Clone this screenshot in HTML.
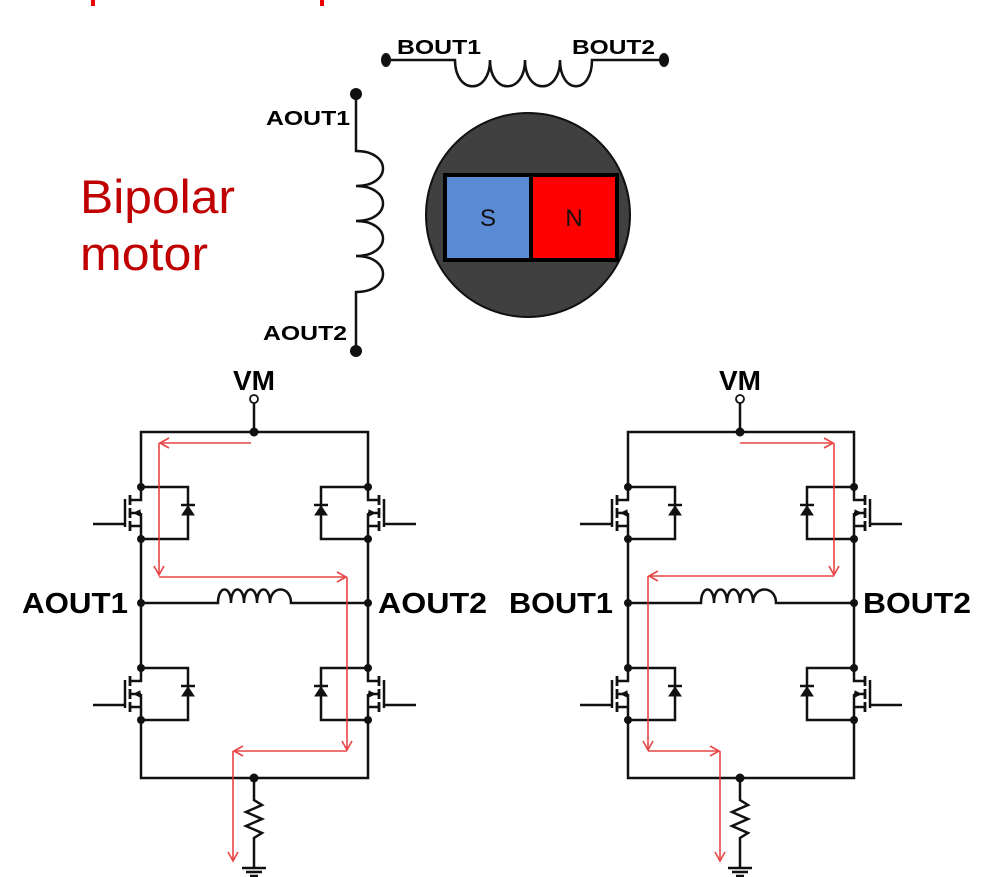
<!DOCTYPE html>
<html><head><meta charset="utf-8"><style>
html,body{margin:0;padding:0;background:#fff;}
svg{display:block;}
text{font-family:"Liberation Sans",sans-serif;}
</style></head><body>
<svg width="1000" height="877" viewBox="0 0 1000 877" xmlns="http://www.w3.org/2000/svg">
<defs>
<marker id="ar" markerWidth="12" markerHeight="12" refX="10" refY="6" orient="auto" markerUnits="userSpaceOnUse">
<path d="M1,1 L10,6 L1,11" fill="none" stroke="#e83030" stroke-width="1.6"/>
</marker>
<g id="fet" stroke="#111" stroke-width="2.5" fill="none">
<path d="M0,0 H47 V52 H0"/>
<path d="M0,0 V13 H-11 M-11,26 H0 M0,39 H-11 M0,39 V52"/>
<path d="M0,26 V39" />
<path d="M-11,8 V18 M-11,21 V31 M-11,34 V44" stroke-width="2.8"/>
<path d="M-16,12 V40 M-16,37 H-48"/>
<path d="M-7,26 L-1,23 L-1,29 Z" fill="#111" stroke-width="1"/>
<path d="M41,28 H53 L47,19 Z" fill="#111" stroke-width="1"/>
<path d="M40,18 H54"/>
<circle cx="0" cy="0" r="4" fill="#111" stroke="none"/>
<circle cx="0" cy="52" r="4" fill="#111" stroke="none"/>
</g>
</defs>

<rect x="91" y="0" width="4" height="6" fill="#e00"/>
<rect x="320" y="0" width="4" height="6" fill="#e00"/>

<text x="80" y="213" font-size="47" fill="#c00000" textLength="155" lengthAdjust="spacingAndGlyphs">Bipolar</text>
<text x="80" y="270" font-size="47" fill="#c00000" textLength="128" lengthAdjust="spacingAndGlyphs">motor</text>

<g stroke="#111" stroke-width="2.5" fill="none">
<path d="M386,60 H455 C455,95 490,95 490,60 C490,95 525,95 525,60 C525,95 560,95 560,60 C560,95 592,95 592,60 H664"/>
<path d="M356,94 V151 C392,151 392,186 356,186 C392,186 392,221 356,221 C392,221 392,256 356,256 C392,256 392,292 356,292 V351"/>
</g>
<ellipse cx="386" cy="60" rx="5" ry="7" fill="#111"/>
<ellipse cx="664" cy="60" rx="5" ry="7" fill="#111"/>
<ellipse cx="356" cy="94" rx="6" ry="6" fill="#111"/>
<ellipse cx="356" cy="351" rx="6" ry="6" fill="#111"/>
<text x="397" y="54" font-size="20" font-weight="bold" textLength="84" lengthAdjust="spacingAndGlyphs">BOUT1</text>
<text x="572" y="54" font-size="20" font-weight="bold" textLength="83" lengthAdjust="spacingAndGlyphs">BOUT2</text>
<text x="266" y="125" font-size="20" font-weight="bold" textLength="84" lengthAdjust="spacingAndGlyphs">AOUT1</text>
<text x="263" y="340" font-size="20" font-weight="bold" textLength="84" lengthAdjust="spacingAndGlyphs">AOUT2</text>

<circle cx="528" cy="215" r="102" fill="#404040" stroke="#111" stroke-width="2"/>
<rect x="445" y="175" width="86" height="85" fill="#5b8bd5" stroke="#000" stroke-width="4"/>
<rect x="531" y="175" width="86" height="85" fill="#ff0000" stroke="#000" stroke-width="4"/>
<text x="488" y="226" font-size="24" text-anchor="middle" fill="#111">S</text>
<text x="574" y="226" font-size="24" text-anchor="middle" fill="#111">N</text>

<g stroke="#111" stroke-width="2.5" fill="none">
<path d="M141,487 V432 H368 V487"/>
<path d="M141,539 V668 M368,539 V668"/>
<path d="M141,720 V778 H368 V720"/>
<path d="M254,403 V432"/>
<path d="M141,603 H218 C218,585 231,585 231,603 C231,585 244,585 244,603 C244,585 257,585 257,603 C257,585 270,585 270,603 C270,585 291,585 291,603 H368"/>
<path d="M254,778 V800 L262,805 L246,812 L262,819 L246,826 L262,833 L254,838 V868"/>
<path d="M242,868 H266 M246,872 H262 M250,876 H258"/>
</g>
<circle cx="254" cy="399" r="4" fill="#fff" stroke="#111" stroke-width="1.8"/>
<circle cx="254" cy="432" r="4.5" fill="#111"/>
<circle cx="141" cy="603" r="4" fill="#111"/>
<circle cx="368" cy="603" r="4" fill="#111"/>
<circle cx="254" cy="778" r="4.5" fill="#111"/>
<use href="#fet" transform="translate(141,487)"/>
<use href="#fet" transform="translate(141,668)"/>
<use href="#fet" transform="translate(368,487) scale(-1,1)"/>
<use href="#fet" transform="translate(368,668) scale(-1,1)"/>
<text x="254" y="390" font-size="28" font-weight="bold" text-anchor="middle">VM</text>
<text x="22" y="613" font-size="29" font-weight="bold" textLength="106" lengthAdjust="spacingAndGlyphs">AOUT1</text>
<text x="378" y="613" font-size="29" font-weight="bold" textLength="109" lengthAdjust="spacingAndGlyphs">AOUT2</text>
<g stroke="#e83030" stroke-width="1.6" fill="none" opacity="0.9">
<path d="M251,443 H160" marker-end="url(#ar)"/>
<path d="M159,443 V575" marker-end="url(#ar)"/>
<path d="M159,577 H346" marker-end="url(#ar)"/>
<path d="M347,577 V750" marker-end="url(#ar)"/>
<path d="M347,751 H234" marker-end="url(#ar)"/>
<path d="M233,751 V861" marker-end="url(#ar)"/>
</g>

<g stroke="#111" stroke-width="2.5" fill="none">
<path d="M628,487 V432 H854 V487"/>
<path d="M628,539 V668 M854,539 V668"/>
<path d="M628,720 V778 H854 V720"/>
<path d="M740,403 V432"/>
<path d="M628,603 H701 C701,585 714,585 714,603 C714,585 727,585 727,603 C727,585 740,585 740,603 C740,585 753,585 753,603 C753,585 776,585 776,603 H854"/>
<path d="M740,778 V800 L748,805 L732,812 L748,819 L732,826 L748,833 L740,838 V868"/>
<path d="M728,868 H752 M732,872 H748 M736,876 H744"/>
</g>
<circle cx="740" cy="399" r="4" fill="#fff" stroke="#111" stroke-width="1.8"/>
<circle cx="740" cy="432" r="4.5" fill="#111"/>
<circle cx="628" cy="603" r="4" fill="#111"/>
<circle cx="854" cy="603" r="4" fill="#111"/>
<circle cx="740" cy="778" r="4.5" fill="#111"/>
<use href="#fet" transform="translate(628,487)"/>
<use href="#fet" transform="translate(628,668)"/>
<use href="#fet" transform="translate(854,487) scale(-1,1)"/>
<use href="#fet" transform="translate(854,668) scale(-1,1)"/>
<text x="740" y="390" font-size="28" font-weight="bold" text-anchor="middle">VM</text>
<text x="509" y="613" font-size="29" font-weight="bold" textLength="104" lengthAdjust="spacingAndGlyphs">BOUT1</text>
<text x="863" y="613" font-size="29" font-weight="bold" textLength="108" lengthAdjust="spacingAndGlyphs">BOUT2</text>
<g stroke="#e83030" stroke-width="1.6" fill="none" opacity="0.9">
<path d="M740,443 H833" marker-end="url(#ar)"/>
<path d="M834,443 V575" marker-end="url(#ar)"/>
<path d="M834,576 H649" marker-end="url(#ar)"/>
<path d="M648,576 V750" marker-end="url(#ar)"/>
<path d="M648,751 H719" marker-end="url(#ar)"/>
<path d="M720,751 V861" marker-end="url(#ar)"/>
</g>
</svg>
</body></html>
